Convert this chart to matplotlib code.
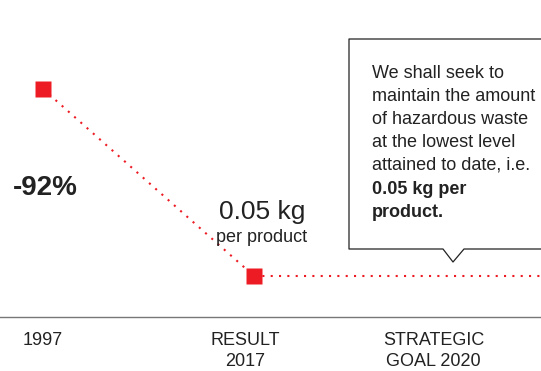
import numpy as np
import matplotlib.pyplot as plt
from matplotlib.lines import Line2D

plt.rcParams['font.family'] = ['Liberation Sans', 'DejaVu Sans']

RED = '#ed1c24'
INK = '#222222'

# hazardous waste, kg per product
positions = [0, 1]
values = [0.625, 0.05]
goal_value = 0.05
change_label = '-92%'
result_value = '0.05 kg'
result_unit = 'per product'
tick_pos = [0, 0.96, 1.85]
tick_labels = ['1997', 'RESULT\n2017', 'STRATEGIC\nGOAL 2020']
note_regular = ('We shall seek to\nmaintain the amount\nof hazardous waste\n'
                'at the lowest level\nattained to date, i.e.')
note_bold = '0.05 kg per\nproduct.'


def px(x, y):
    # figure pixel (from top-left) -> figure fraction
    return x / 541, 1 - y / 371


fig = plt.figure(figsize=(5.41, 3.71), dpi=100, facecolor='w')
ax = fig.add_axes([0, 54 / 371, 1, 317 / 371])
ax.set_xlim(-0.204, 2.36)
ax.set_ylim(-0.0761, 0.8987)

dots = dict(color=RED, lw=1.5, ls=(0, (1, 3)))
ax.plot(positions, values, zorder=2, **dots)
ax.plot([positions[-1], 2.6], [goal_value, goal_value], zorder=2, **dots)
ax.plot(positions, values, 's', ms=11.5, color=RED, mec='none', zorder=3)

ax.text(0.01, 0.32, change_label, ha='center', va='center', fontsize=20,
        weight='bold', color=INK)
ax.text(1.038, 0.225, result_value, ha='center', va='baseline', fontsize=19, color=INK)
ax.text(1.038, 0.155, result_unit, ha='center', va='baseline', fontsize=13, color=INK)

for s in ['top', 'left', 'right']:
    ax.spines[s].set_visible(False)
ax.spines['bottom'].set_color('#777777')
ax.spines['bottom'].set_linewidth(1)
ax.set_yticks([])
ax.set_xticks(tick_pos, tick_labels, fontsize=13, color=INK)
ax.tick_params(axis='x', length=0, pad=11)
for lbl in ax.get_xticklabels():
    lbl.set_linespacing(1.25)

# callout box
box = [(560, 39), (349, 39), (349, 249), (443, 249), (453, 262), (464, 249), (560, 249)]
bx, by = zip(*[px(x, y) for x, y in box])
fig.add_artist(Line2D(bx, by, color=INK, lw=0.9, transform=fig.transFigure))

# baseline of a multi-line text is the last line here
fig.text(*px(372, 170), note_regular, ha='left', va='baseline', fontsize=13,
         color=INK, linespacing=1.47)
fig.text(*px(372, 217), note_bold, ha='left', va='baseline', fontsize=13,
         weight='bold', color=INK, linespacing=1.47)

fig.savefig('out.png', dpi=100, facecolor='w')
